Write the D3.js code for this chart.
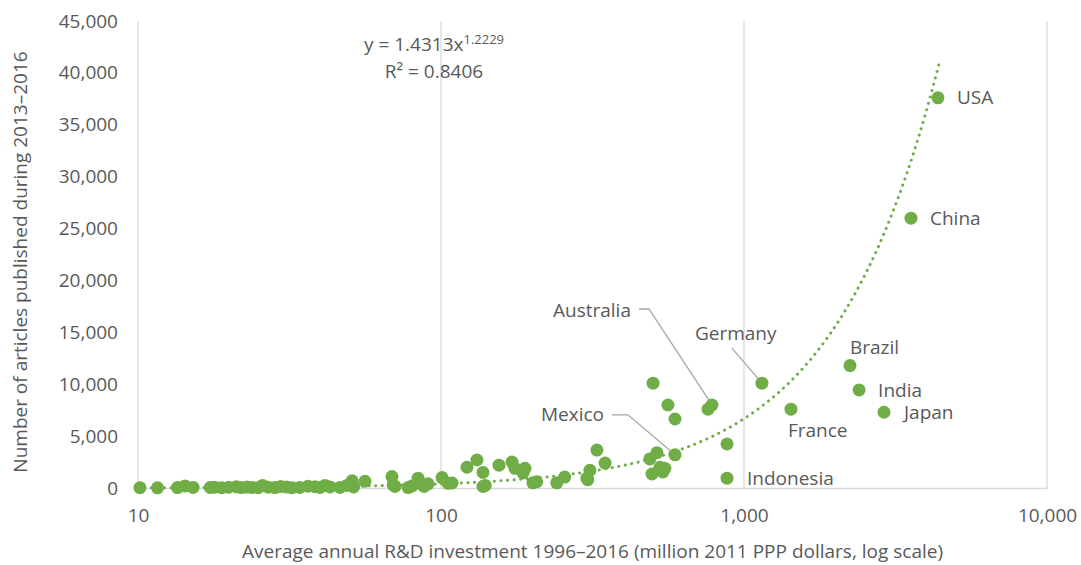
<!DOCTYPE html>
<html>
<head>
<meta charset="utf-8">
<script src="https://cdn.jsdelivr.net/npm/d3@7"></script>
<style>
  body { margin: 0; background: #fff; }
  text { font-family: "Open Sans", "Noto Sans", sans-serif; fill: #595959; }
</style>
</head>
<body>
<svg id="chart" width="1081" height="565"></svg>
<script>
// R&D investment (million 2011 PPP $) and articles published 2013-2016
const rdSpend = [10.15, 11.6, 13.5, 14.3, 15.2, 17.3, 17.9, 18.9, 19.9, 21.1, 21.9, 22.9, 23.8, 24.9,
  25.8, 26.9, 28.3, 29.6, 31.0, 32.2, 34.2, 36.4, 38.4, 39.9, 41.4, 43.0, 46.4, 48.9, 50.9, 51.5,
  56.1, 68.9, 69.5, 70.5, 77.9, 80.3, 84.0, 86.6, 88, 90.6, 100.8, 105.6, 108.7, 121.8, 131.4,
  137.6, 137.6, 140, 155.4, 171.6, 175.5, 189.3, 186.5, 201, 207, 241, 256, 303, 305, 310, 327,
  348, 489, 497, 501, 516, 528, 540, 548, 561, 592, 592, 761, 784, 879, 879, 1146, 1429, 2238,
  2398, 2898, 3557, 4366]
const articles = [30, 20, 40, 200, 60, 50, 80, 30, 70, 120, 40, 90, 60, 30,
  250, 80, 40, 150, 90, 30, 60, 180, 120, 50, 250, 100, 60, 250, 700, 100,
  650, 1100, 300, 150, 40, 200, 950, 350, 150, 400, 1000, 450, 480, 2000, 2700,
  1500, 150, 250, 2200, 2500, 1900, 1900, 1450, 500, 600, 500, 1050, 950, 800, 1700, 3650,
  2400, 2800, 1350, 10100, 3400, 2000, 1550, 1900, 8000, 6650, 3200, 7600, 8000, 4250, 950, 10100, 7600, 11800,
  9450, 7300, 26000, 37600]

const labelNames = ['USA', 'China', 'Brazil', 'India', 'Japan', 'France', 'Indonesia', 'Germany', 'Australia', 'Mexico']
const labelX = [4366, 3557, 2238, 2398, 2898, 1429, 879, 1146, 784, 592]
const labelY = [37600, 26000, 11800, 9450, 7300, 7600, 950, 10100, 8000, 3200]

const yTicks = [0, 5000, 10000, 15000, 20000, 25000, 30000, 35000, 40000, 45000]
const xTicks = [10, 100, 1000, 10000]

// power trendline printed on the chart
const fitA = 1.4313, fitB = 1.2229

const green = '#70ad47'
const fontSize = 19
const margin = {top: 21, right: 34, bottom: 77, left: 138}
const width = 1081 - margin.left - margin.right
const height = 565 - margin.top - margin.bottom

const svg = d3.select('#chart')
const chart = svg.append('g')
  .attr('transform', `translate(${margin.left}, ${margin.top})`)

const xScale = d3.scaleLog().domain([10, 10000]).range([0, width])
const yScale = d3.scaleLinear().domain([0, 45000]).range([height, 0])

// vertical gridlines
chart.append('g')
  .selectAll('line')
  .data(xTicks)
  .join('line')
  .attr('x1', d => xScale(d)).attr('x2', d => xScale(d))
  .attr('y1', 0).attr('y2', height)
  .attr('stroke', '#d9d9d9')
  .attr('stroke-width', 1.3)

// x axis
const xAxis = chart.append('g')
  .attr('transform', `translate(0, ${height})`)
  .call(d3.axisBottom(xScale).tickValues(xTicks).tickFormat(d3.format(',')).tickSize(0).tickPadding(21))
xAxis.select('.domain').attr('stroke', '#d9d9d9').attr('stroke-width', 1.3)
xAxis.selectAll('text').attr('font-size', fontSize).attr('fill', '#595959').attr('font-family', '"Open Sans", sans-serif')

// y axis
const yAxis = chart.append('g')
  .call(d3.axisLeft(yScale).tickValues(yTicks).tickFormat(d3.format(',')).tickSize(0).tickPadding(20))
yAxis.select('.domain').remove()
yAxis.selectAll('text').attr('font-size', fontSize).attr('fill', '#595959').attr('font-family', '"Open Sans", sans-serif')

// trendline
const fitData = d3.range(10, 4420, 5)
chart.append('path')
  .datum(fitData)
  .attr('fill', 'none')
  .attr('stroke', green)
  .attr('stroke-width', 3)
  .attr('stroke-linecap', 'round')
  .attr('stroke-dasharray', '0.1 6.5')
  .attr('d', d3.line()
    .x(d => xScale(d))
    .y(d => yScale(fitA * Math.pow(d, fitB)))
  )

// leader lines for a few labels
const leaders = [
  {name: 'Germany', pts: [[-30, -35], [0, 0]]},
  {name: 'Australia', pts: [[-73, -96], [-63, -96], [0, 0]]},
  {name: 'Mexico', pts: [[-63, -40], [-47, -40], [0, 0]]}
]
leaders.forEach(l => {
  const i = labelNames.indexOf(l.name)
  const px = xScale(labelX[i]), py = yScale(labelY[i])
  chart.append('path')
    .attr('fill', 'none')
    .attr('stroke', '#a6a6a6')
    .attr('stroke-width', 1.3)
    .attr('d', d3.line()(l.pts.map(p => [px + p[0], py + p[1]])))
})

// points
chart.append('g')
  .selectAll('circle')
  .data(rdSpend.map((d, i) => ({x: d, y: articles[i]})))
  .join('circle')
  .attr('cx', d => xScale(d.x))
  .attr('cy', d => yScale(d.y))
  .attr('r', 6.5)
  .attr('fill', green)

// country labels
const labelOffset = {
  USA: [19, 0, 'start'], China: [19, 0, 'start'], Brazil: [0, -18, 'start'],
  India: [19, 0, 'start'], Japan: [20, 0, 'start'], France: [-3, 21, 'start'],
  Indonesia: [20, 0, 'start'], Germany: [-67, -50, 'start'],
  Australia: [-81, -95, 'end'], Mexico: [-71, -40, 'end']
}
chart.append('g')
  .selectAll('text')
  .data(labelNames)
  .join('text')
  .attr('x', (d, i) => xScale(labelX[i]) + labelOffset[d][0])
  .attr('y', (d, i) => yScale(labelY[i]) + labelOffset[d][1])
  .attr('dy', '0.35em')
  .attr('text-anchor', d => labelOffset[d][2])
  .attr('font-size', fontSize)
  .text(d => d)

// equation
const eq = chart.append('text')
  .attr('x', 296)
  .attr('y', 23)
  .attr('dy', '0.35em')
  .attr('text-anchor', 'middle')
  .attr('font-size', fontSize)
eq.append('tspan').text(`y = ${fitA}x`)
eq.append('tspan').attr('font-size', 13).attr('dy', '-0.55em').text(fitB)
chart.append('text')
  .attr('x', 296)
  .attr('y', 50)
  .attr('dy', '0.35em')
  .attr('text-anchor', 'middle')
  .attr('font-size', fontSize)
  .text('R² = 0.8406')

// axis titles
svg.append('text')
  .attr('x', margin.left + width / 2)
  .attr('y', 551)
  .attr('dy', '0.35em')
  .attr('text-anchor', 'middle')
  .attr('font-size', fontSize)
  .text('Average annual R&D investment 1996–2016 (million 2011 PPP dollars, log scale)')

svg.append('text')
  .attr('transform', 'translate(20, 262) rotate(-90)')
  .attr('dy', '0.35em')
  .attr('text-anchor', 'middle')
  .attr('font-size', fontSize)
  .text('Number of articles published during 2013–2016')
</script>
</body>
</html>
